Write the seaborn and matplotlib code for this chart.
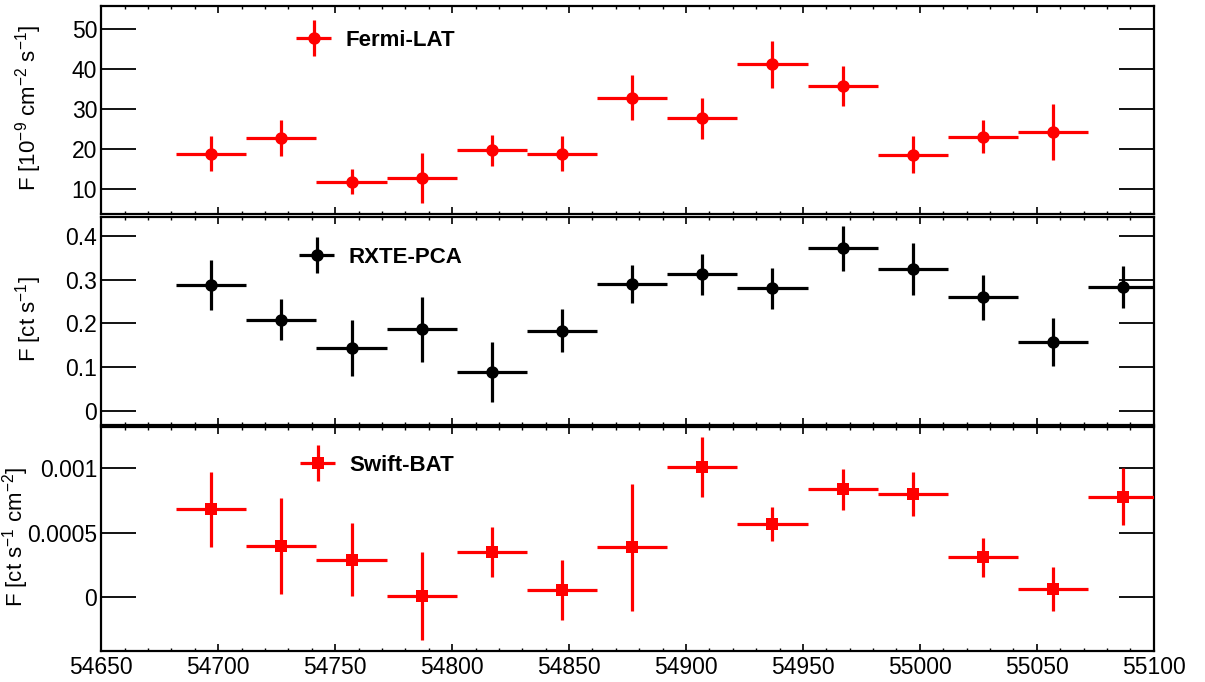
import numpy as np
import pandas as pd
import matplotlib
matplotlib.use("Agg")
import matplotlib.pyplot as plt
import seaborn as sns
from matplotlib.ticker import FixedLocator, MultipleLocator, FuncFormatter
from matplotlib.container import ErrorbarContainer
from matplotlib.legend_handler import HandlerErrorbar

# ---------------- data ----------------
fermi_mjd = [54697, 54727, 54757, 54787, 54817, 54847, 54877, 54907, 54937, 54967, 54997, 55027, 55057]
fermi_flux = [18.8, 22.7, 11.8, 12.7, 19.6, 18.8, 32.8, 27.6, 41.1, 35.7, 18.5, 23.0, 24.2]
fermi_err = [4.4, 4.4, 3.2, 6.3, 3.9, 4.4, 5.6, 5.2, 5.9, 5.1, 4.6, 4.1, 6.9]

rxte_mjd = [54697, 54727, 54757, 54787, 54817, 54847, 54877, 54907, 54937, 54967, 54997, 55027, 55057, 55087]
rxte_flux = [0.287, 0.209, 0.145, 0.187, 0.089, 0.183, 0.290, 0.312, 0.280, 0.372, 0.324, 0.260, 0.158, 0.283]
rxte_err = [0.057, 0.047, 0.064, 0.074, 0.069, 0.049, 0.043, 0.047, 0.046, 0.051, 0.059, 0.051, 0.055, 0.048]

swift_mjd = [54697, 54727, 54757, 54787, 54817, 54847, 54877, 54907, 54937, 54967, 54997, 55027, 55057, 55087]
swift_flux = [0.000679, 0.000397, 0.000292, 0.000013, 0.000351, 0.000059, 0.000385, 0.001005,
              0.000567, 0.000833, 0.000800, 0.000308, 0.000064, 0.000777]
swift_err = [0.00029, 0.00037, 0.00028, 0.00034, 0.00019, 0.00023, 0.00049, 0.00023,
             0.00013, 0.00016, 0.00017, 0.00015, 0.00017, 0.00022]

bin_half_width = 15

labels = ["Fermi-LAT", "RXTE-PCA", "Swift-BAT"]
ylabels = ["F [10$^{-9}$ cm$^{-2}$ s$^{-1}$]", "F [ct s$^{-1}$]", "F [ct s$^{-1}$ cm$^{-2}$]"]
x_ticks = [54650, 54700, 54750, 54800, 54850, 54900, 54950, 55000, 55050, 55100]
fermi_yticks = [10, 20, 30, 40, 50]
rxte_yticks = [0, 0.1, 0.2, 0.3, 0.4]
swift_yticks = [0, 0.0005, 0.001]

# ---------------- style ----------------
sns.set_theme(style="ticks")
plt.rcParams["font.family"] = ["Liberation Sans", "DejaVu Sans"]
plt.rcParams["mathtext.fontset"] = "custom"
plt.rcParams["mathtext.rm"] = "Liberation Sans"
plt.rcParams["mathtext.default"] = "regular"
plt.rcParams["text.color"] = "black"
plt.rcParams["axes.labelcolor"] = "black"
plt.rcParams["xtick.color"] = "black"
plt.rcParams["ytick.color"] = "black"
plt.rcParams["legend.labelcolor"] = "black"

RED = "#ff0000"
BLACK = "#000000"

fig = plt.figure(figsize=(12.05, 6.82), dpi=100)
L, R = 0.0841, 0.9574
ax_f = fig.add_axes([L, 0.6862, R - L, 0.9916 - 0.6862])
ax_r = fig.add_axes([L, 0.3768, R - L, 0.6823 - 0.3768])
ax_s = fig.add_axes([L, 0.0459, R - L, 0.3743 - 0.0459])

panels = [
    (ax_f, fermi_mjd, fermi_flux, fermi_err, RED, "o", (3.7, 55.8), fermi_yticks, 0.1816, 0.835, -0.0546),
    (ax_r, rxte_mjd, rxte_flux, rxte_err, BLACK, "o", (-0.032, 0.444), rxte_yticks, 0.1846, 0.805, -0.0546),
    (ax_s, swift_mjd, swift_flux, swift_err, RED, "s", (-0.00041, 0.001315), swift_yticks, 0.1854, 0.829, -0.0665),
]

fmt_g = FuncFormatter(lambda v, p: "%g" % v)

for i, (ax, xs, ys, es, col, mk, ylim, yt, lx, ly, labx) in enumerate(panels):
    df = pd.DataFrame({"mjd": xs, "flux": ys, "err": es})
    cont = ax.errorbar(df["mjd"], df["flux"], yerr=df["err"], xerr=bin_half_width,
                       fmt=mk, color=col, ecolor=col, markersize=9, elinewidth=2.3,
                       capsize=2.2, capthick=2.3, markeredgewidth=0, label=labels[i],
                       zorder=3)
    ax.set_xlim(54650, 55100)
    ax.set_ylim(*ylim)
    ax.set_facecolor("white")
    for sp in ax.spines.values():
        sp.set_visible(True)
        sp.set_linewidth(1.6)
        sp.set_color("black")
    ax.xaxis.set_major_locator(FixedLocator(x_ticks))
    ax.xaxis.set_minor_locator(MultipleLocator(10))
    ax.xaxis.set_major_formatter(fmt_g)
    ax.yaxis.set_major_locator(FixedLocator(yt))
    ax.yaxis.set_major_formatter(fmt_g)
    ax.tick_params(axis="x", which="major", direction="in", top=True, bottom=True,
                   length=5, width=1.2, labelsize=16.5, pad=3.5, colors="black")
    ax.tick_params(axis="x", which="minor", direction="in", top=True, bottom=True,
                   length=2.5, width=1.0, colors="black")
    ax.tick_params(axis="y", which="major", direction="in", left=True, right=True,
                   length=25, width=1.3, labelsize=16.5, pad=3.0, colors="black")
    ax.tick_params(axis="y", which="minor", left=False, right=False)
    if i < 2:
        ax.tick_params(axis="x", labelbottom=False)
    ax.grid(False)
    ax.set_ylabel(ylabels[i], fontsize=16, color="black")
    ax.yaxis.set_label_coords(labx, 0.51)
    leg = ax.legend(handles=[cont], labels=[labels[i]], loc="center left",
                    bbox_to_anchor=(lx, ly), frameon=False, borderaxespad=0, borderpad=0,
                    handlelength=1.9, handletextpad=0.5,
                    prop={"weight": "bold", "size": 16},
                    handler_map={ErrorbarContainer: HandlerErrorbar(xerr_size=0.8)})
    for t in leg.get_texts():
        t.set_color("black")

fig.savefig("out.png", dpi=100, facecolor="white")
